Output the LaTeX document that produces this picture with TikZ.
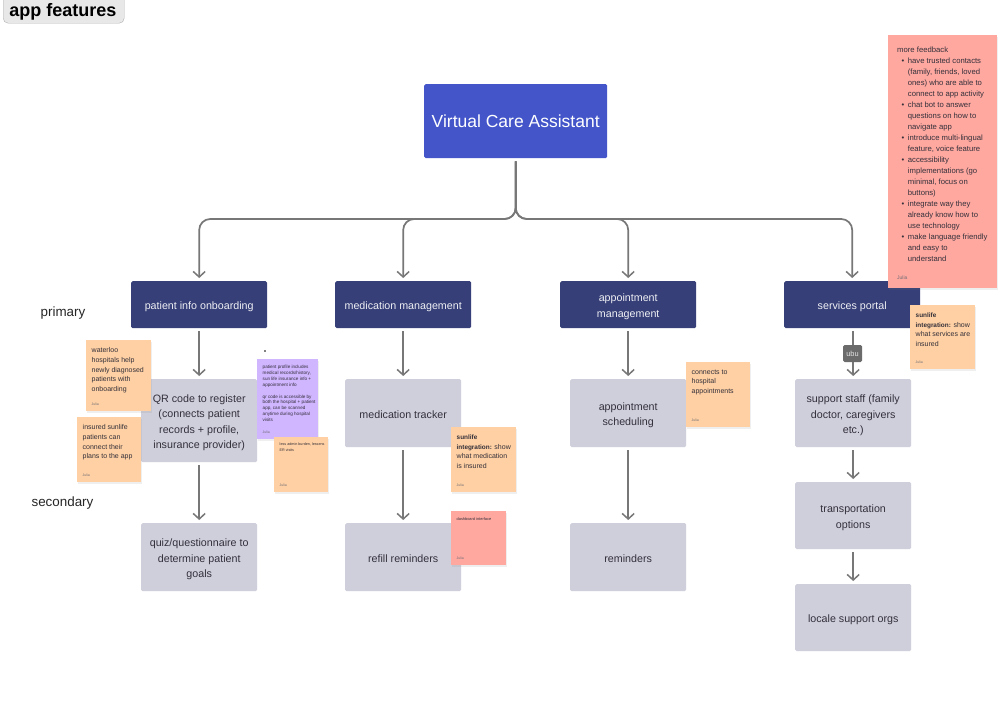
\documentclass[tikz,border=0pt]{standalone}
\usepackage{fontspec}
\setmainfont{Liberation Sans}
\usetikzlibrary{arrows.meta,shadows,calc}
\definecolor{rootblue}{HTML}{4355C9}
\definecolor{navy}{HTML}{363F78}
\definecolor{greybox}{HTML}{CFCFDC}
\definecolor{orangenote}{HTML}{FFD0A3}
\definecolor{purplenote}{HTML}{D0B5FF}
\definecolor{pinknote}{HTML}{FFA8A0}
\definecolor{conn}{HTML}{777777}
\definecolor{inktext}{HTML}{33303A}
\newcommand{\fs}[2]{\fontsize{#1}{#2}\selectfont}
\newcommand{\lowtext}[1]{\raisebox{-1.7pt}[\height][\depth]{\begin{tabular}{@{}c@{}}#1\end{tabular}}}
\newcommand{\bsm}[1]{{\fs{6.4}{9.7}\textbf{#1}}}
\tikzset{
  x=1pt,y=-1pt,
  box/.style={draw=none,rounded corners=1.5pt,inner sep=0pt,anchor=north west,align=center},
  rootbox/.style={box,fill=rootblue,text=white,font=\fs{17.5}{22}},
  primarybox/.style={box,fill=navy,text=white!92!navy,minimum width=136pt,minimum height=47pt,font=\fs{10.7}{15.5}},
  greyb/.style={box,fill=greybox,text=inktext,minimum width=116pt,font=\fs{10.7}{15.5}},
  note/.style={anchor=north west,inner sep=0pt,draw=none,drop shadow={opacity=.12,shadow xshift=0.5pt,shadow yshift=-1.5pt}},
  notetext/.style={anchor=north west,inner sep=0pt,align=left,text=inktext},
  author/.style={anchor=south west,inner sep=0pt,text=inktext!70,font=\fs{3.5}{4}},
  arrowline/.style={draw=conn,line width=1.7pt,-{Straight Barb[length=5.5pt,width=12pt,line width=1.5pt]},shorten >=3pt,shorten <=3pt},
  busline/.style={arrowline,rounded corners=11pt},
  sidelabel/.style={inner sep=0pt,text=black!85,font=\fs{13.4}{15}},
}
\newcommand{\sticky}[9]{% name, color, x, y, w, h, font, inset, text
  \node[note,fill=#2,minimum width=#5pt,minimum height=#6pt] (#1) at (#3,#4) {};
  \node[notetext,font=#7] (#1t) at ($(#1.north west)+(5.5,#8)$) {#9};
  \node[author] (#1a) at ($(#1.south west)+(5.5,-5.5)$) {Julia};
}
\begin{document}
\begin{tikzpicture}
\useasboundingbox (0,0) rectangle (1006,704);
\fill[white] (0,0) rectangle (1006,704);
% title
\begin{scope}
\clip (0,0) rectangle (1006,704);
\node[draw=black!30,fill=black!9,rounded corners=5pt,anchor=north west,inner sep=0pt,minimum width=121pt,minimum height=29pt] (titlebg) at (3,-6) {};
\end{scope}
\node[inner sep=0pt,font=\fs{18}{20}\bfseries,text=black] (title) at (63,12) {app features};
% labels
\node[sidelabel] (primary) at (63,313) {primary};
\node[sidelabel] (secondary) at (62.5,503) {secondary};
% main
\node[rootbox,minimum width=183pt,minimum height=74pt] (root) at (424,84) {Virtual Care Assistant};
\node[primarybox] (p1) at (131,281) {\lowtext{patient info onboarding}};
\node[primarybox] (p2) at (335,281) {\lowtext{medication management}};
\node[primarybox] (p3) at (560,281) {\lowtext{appointment\\management}};
\node[primarybox] (p4) at (784,281) {\lowtext{services portal}};
\node[greyb,minimum height=83pt] (qr) at (141,379) {\lowtext{QR code to register\\(connects patient\\records + profile,\\insurance provider)}};
\node[greyb,minimum height=68pt] (quiz) at (141,523) {\lowtext{quiz/questionnaire to\\determine patient\\goals}};
\node[greyb,minimum height=68pt] (tracker) at (345,379) {\lowtext{medication tracker}};
\node[greyb,minimum height=68pt] (refill) at (345,523) {\lowtext{refill reminders}};
\node[greyb,minimum height=68pt] (sched) at (570,379) {\lowtext{appointment\\scheduling}};
\node[greyb,minimum height=68pt] (remind) at (570,523) {\lowtext{reminders}};
\node[greyb,minimum height=68pt] (support) at (795,379) {\lowtext{support staff (family\\doctor, caregivers\\etc.)}};
\node[greyb,minimum height=67pt] (trans) at (795,482) {\lowtext{transportation\\options}};
\node[greyb,minimum height=67pt] (locale) at (795,584) {\lowtext{locale support orgs}};
% connectors
\coordinate (bus) at (516,219);
\foreach \t in {p1,p2,p3,p4}{
  \draw[busline] (root.south) -- (root.south |- bus) -- (\t.north |- bus) -- (\t.north);
}
\draw[arrowline] (p1) -- (qr);
\draw[arrowline] (qr) -- (quiz);
\draw[arrowline] (p2) -- (tracker);
\draw[arrowline] (tracker) -- (refill);
\draw[arrowline] (p3) -- (sched);
\draw[arrowline] (sched) -- (remind);
\draw[arrowline] (p4.south -| support.north) -- (support.north);
\draw[arrowline] (support) -- (trans);
\draw[arrowline] (trans) -- (locale);
\node[fill=black!58,text=white!90!black,rounded corners=1.5pt,inner sep=0pt,minimum width=19pt,minimum height=17pt,font=\fs{7.4}{8}] (ubu) at (852.5,353.5) {ubu};
% stickies
\sticky{waterloo}{orangenote}{86}{340}{65}{71}{\fs{7}{9.7}}{7.5}{waterloo\\hospitals help\\newly diagnosed\\patients with\\onboarding}
\sticky{insured}{orangenote}{77}{417}{64}{65}{\fs{7}{9.7}}{7.5}{insured sunlife\\patients can\\connect their\\plans to the app}
\sticky{profile}{purplenote}{257}{359}{61}{80}{\fs{4.6}{5.9}}{6}{patient profile includes\\medical records/history,\\sun life insurance info +\\appointment info\\[5.9pt]qr code is accessible by\\both the hospital + patient\\app, can be scanned\\anytime during hospital\\visits}
\sticky{admin}{orangenote}{274}{437}{54}{55}{\fs{3.7}{5.9}}{6}{less admin burden, lessens\\ER visits}
\sticky{medins}{orangenote}{451}{427}{65}{65}{\fs{7}{9.7}}{7.5}{\bsm{sunlife}\\\bsm{integration:} show\\what medication\\is insured}
\sticky{dash}{pinknote}{451}{511}{55}{54}{\fs{3.9}{5.9}}{6}{dashboard interface}
\sticky{hosp}{orangenote}{686}{362}{64}{65}{\fs{7}{9.7}}{7.5}{connects to\\hospital\\appointments}
\sticky{servins}{orangenote}{910}{305}{65}{64}{\fs{7}{9.7}}{7.5}{\bsm{sunlife}\\\bsm{integration:} show\\what services are\\insured}
% feedback note
\node[note,fill=pinknote,minimum width=109pt,minimum height=253pt] (feedback) at (888,35) {};
\node[notetext,font=\fs{7.7}{11}] (feedbackt) at (897,44.5) {\renewcommand{\arraystretch}{1}\begin{tabular}{@{}l@{\hspace{3.5pt}}l@{}}
\multicolumn{2}{@{}l@{}}{more feedback}\\
\hspace{4.5pt}\textbullet & have trusted contacts\\
& (family, friends, loved\\
& ones) who are able to\\
& connect to app activity\\
\hspace{4.5pt}\textbullet & chat bot to answer\\
& questions on how to\\
& navigate app\\
\hspace{4.5pt}\textbullet & introduce multi-lingual\\
& feature, voice feature\\
\hspace{4.5pt}\textbullet & accessibility\\
& implementations (go\\
& minimal, focus on\\
& buttons)\\
\hspace{4.5pt}\textbullet & integrate way they\\
& already know how to\\
& use technology\\
\hspace{4.5pt}\textbullet & make language friendly\\
& and easy to\\
& understand
\end{tabular}};
\node[author,font=\fs{5}{6}] (feedbacka) at ($(feedback.south west)+(9,-9)$) {Julia};
\fill[black] (265,351) circle (0.8pt);
\end{tikzpicture}
\end{document}
